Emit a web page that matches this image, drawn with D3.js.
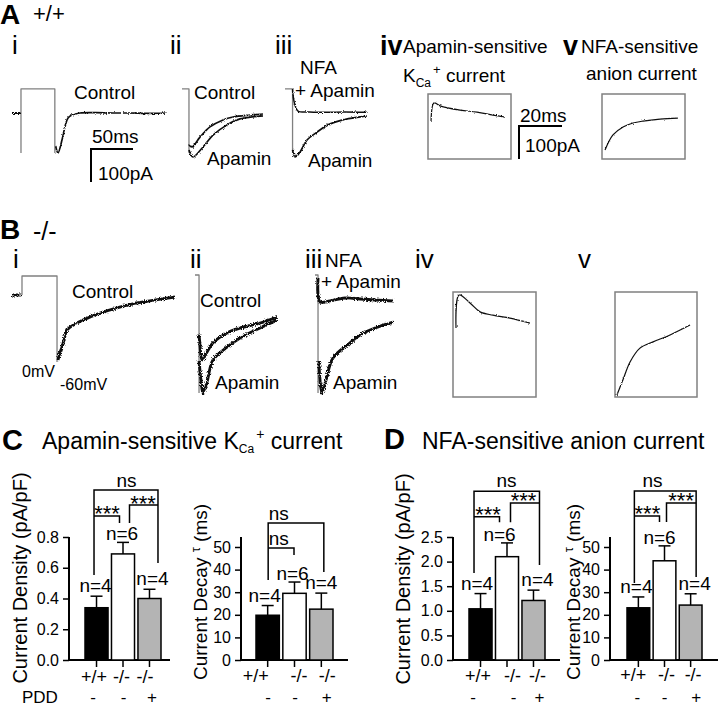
<!DOCTYPE html>
<html><head><meta charset="utf-8">
<script src="https://cdn.jsdelivr.net/npm/d3@7"></script>
<style>
body{margin:0;background:#fff;}
svg{display:block;font-family:"Liberation Sans",Arial,sans-serif;}
</style></head><body>
<svg id="fig" width="720" height="707"></svg>
<script>
// ================= DATA =================
const genotypes = ["+/+", "-/-", "-/-"];
const pddLabels = ["-", "-", "+"];
const nLabels = ["n=4", "n=6", "n=4"];

const kcaDensity = [0.34, 0.69, 0.40];
const kcaDensitySem = [0.075, 0.075, 0.06];
const kcaTau = [19.8, 29.5, 22.5];
const kcaTauSem = [4.3, 5.0, 7.1];
const anionDensity = [1.04, 2.10, 1.21];
const anionDensitySem = [0.31, 0.28, 0.21];
const anionTau = [23.1, 43.9, 24.3];
const anionTauSem = [4.8, 6.6, 5.0];

const densityTicksC = [0, 0.2, 0.4, 0.6, 0.8];
const densityTicksD = [0, 0.5, 1.0, 1.5, 2.0, 2.5];
const tauTicks = [0, 10, 20, 30, 40, 50];

// current traces: [time (ms), current (pA)]
const aiBaseline = [[0, 0], [10, 0]];
const aiStep = [[10.7, -121], [10.7, 73], [51, 73], [51, -121]];
const aiControl = [[52, -100], [54.8, -121], [59.5, -82], [63, -42], [66.7, -15], [71.4, -6], [81, 0], [100, 1], [120, 0], [140, 0], [160, -1], [184, 0]];
const aiiStep = [[0, 73], [8.3, 73], [8.3, -121]];
const aiiControl = [[8.3, -97], [11.9, -103], [21.4, -73], [33.3, -42], [48.8, -21], [60.7, -12], [81, -6], [96.4, -3]];
const aiiApamin = [[8.3, -112], [13.1, -133], [25, -103], [36.9, -67], [53.6, -36], [69, -18], [96.4, -9]];
const aiiiStep = [[0, 73], [9, 73], [9, -121]];
const aiiiNfa = [[9, 73], [9.5, 55], [11.9, 24], [15.5, 6], [29.8, 3], [50, 2], [70, 3], [97.6, 2]];
const aiiiApamin = [[9, -112], [11.9, -133], [17.9, -118], [26.2, -82], [38.1, -58], [51.2, -36], [69, -21], [89.3, -12], [97.6, -9]];

const biBaseline = [[0, 0], [11, 0]];
const biStep = [[11.9, 0], [11.9, 57.6], [53.6, 57.6], [53.6, -203]];
const biControl = [[54.8, -197], [57, -175], [59.5, -158], [62, -135], [65.5, -106], [75, -88], [84.5, -76], [104.8, -55], [125, -39], [144, -27], [164, -18], [194, -6]];
const biiStep = [[0, 60.6], [4.8, 60.6], [4.8, -297]];
const biiControl = [[4.8, -120], [6, -152], [8.3, -197], [14.3, -173], [21.4, -145], [38.1, -115], [53.6, -100], [77.4, -85], [97.6, -67]];
const biiApamin = [[4.8, -200], [7.1, -258], [9.5, -297], [14.3, -264], [21.4, -197], [38.1, -158], [53.6, -130], [77.4, -100], [97.6, -76]];
const biiiStep = [[0, 60.6], [3.6, 60.6], [3.6, -297]];
const biiiNfa = [[3.6, 51.5], [6, -21], [17.9, -18], [35.7, -9], [53.6, -12], [71.4, -15], [92.9, -18]];
const biiiApamin = [[4.5, -200], [6, -258], [8.3, -297], [13.1, -258], [21.4, -191], [41.7, -145], [53.6, -121], [71.4, -100], [92.9, -82]];

// difference currents (boxes)
const aivTrace = [[1.4, 112], [2.8, 170], [5.6, 161], [14.9, 148], [22.8, 142], [30.2, 133], [35.8, 127]];
const avTrace = [[1.4, 27], [5.1, 73], [9.8, 97], [14.4, 109], [19.1, 115], [27, 121], [35.3, 124]];
const bivTrace = [[1.4, 209], [2.8, 309], [7.9, 285], [12.6, 258], [18.6, 248], [26.5, 239], [35.8, 224]];
const bvTrace = [[0.9, 6], [3.7, 52], [7, 106], [11.6, 148], [17.7, 167], [25.6, 188], [34.9, 218]];

// ================= DRAWING =================
const svg = d3.select("#fig");
const defs = svg.append("defs");
function noiseFilter(id, freq, scale, seed) {
  const f = defs.append("filter").attr("id", id).attr("filterUnits", "userSpaceOnUse")
    .attr("x", 0).attr("y", 0).attr("width", 720).attr("height", 707);
  f.append("feTurbulence").attr("type", "fractalNoise").attr("baseFrequency", freq)
    .attr("numOctaves", 1).attr("seed", seed).attr("result", "t");
  f.append("feDisplacementMap").attr("in", "SourceGraphic").attr("in2", "t")
    .attr("scale", scale).attr("xChannelSelector", "R").attr("yChannelSelector", "G");
}
noiseFilter("noiseA", 0.9, 3, 4);
noiseFilter("noiseB", 0.9, 4.5, 9);
noiseFilter("noiseC", 0.7, 2.5, 2);

function label(x, y, str, size, o = {}) {
  const t = svg.append("text").attr("x", x).attr("y", y).attr("font-size", size).attr("fill", "#000").text(str);
  if (o.bold) t.attr("font-weight", "bold");
  if (o.anchor) t.attr("text-anchor", o.anchor);
  return t;
}
function kcaText(x, y, size, subSize, supSize, prefix, suffix, subDy, supDy) {
  const t = svg.append("text").attr("x", x).attr("y", y).attr("font-size", size);
  t.append("tspan").text(prefix + "K");
  t.append("tspan").attr("font-size", subSize).attr("dy", subDy).text("Ca");
  t.append("tspan").attr("font-size", supSize).attr("dy", supDy).attr("dx", 2).text("+");
  t.append("tspan").attr("dy", -(subDy + supDy)).text(suffix);
}

// time / current scales for traces
const xMs = d3.scaleLinear().domain([0, 50]).range([0, 42]);
const yPA = d3.scaleLinear().domain([0, 100]).range([0, -33]);
const xBoxMs = d3.scaleLinear().domain([0, 20]).range([0, 43]);

function drawTrace(ox, oy, data, xs, opts) {
  const line = d3.line().x(d => ox + xs(d[0])).y(d => oy + yPA(d[1]))
    .curve(opts.curve || d3.curveLinear);
  const p = svg.append("path").attr("d", line(data)).attr("fill", "none")
    .attr("stroke", opts.color || "#111").attr("stroke-width", opts.w || 1.5)
    .attr("stroke-linejoin", "round");
  if (opts.filter) p.attr("filter", `url(#${opts.filter})`);
}
const smooth = d3.curveCatmullRom.alpha(0.5);
const grey = "#808080";

// ---- Panel A ----
label(0, 24, "A", 28, { bold: true });
label(33, 21, "+/+", 22);
[["i", 12], ["ii", 170], ["iii", 275]].forEach(([s, x]) => label(x, 54, s, 26));
label(380, 55, "iv", 27, { bold: true });
label(563, 55, "v", 27, { bold: true });

// A-i
drawTrace(12, 113, aiStep, xMs, { color: grey, w: 1.3 });
drawTrace(12, 113, aiBaseline, xMs, { w: 2, filter: "noiseA" });
drawTrace(12, 113, aiControl, xMs, { w: 1.7, curve: smooth, filter: "noiseA" });
label(74, 99, "Control", 19);
// A-ii
drawTrace(182, 113, aiiStep, xMs, { color: grey, w: 1.3 });
drawTrace(182, 113, aiiControl, xMs, { w: 1.7, curve: smooth, filter: "noiseA" });
drawTrace(182, 113, aiiApamin, xMs, { w: 1.7, curve: smooth, filter: "noiseA" });
label(194, 99, "Control", 19);
label(207, 165, "Apamin", 19);
// A-iii
drawTrace(285, 113, aiiiStep, xMs, { color: grey, w: 1.3 });
drawTrace(285, 113, aiiiNfa, xMs, { w: 1.5, curve: smooth, filter: "noiseA" });
drawTrace(285, 113, aiiiApamin, xMs, { w: 1.7, curve: smooth, filter: "noiseA" });
label(300, 74, "NFA", 19);
label(295, 97, "+ Apamin", 19);
label(308, 167, "Apamin", 19);
// scale bar A (50 ms, 100 pA)
svg.append("path").attr("d", `M${91 + xMs(50)},149H91V${149 - yPA(100)}`)
  .attr("fill", "none").attr("stroke", "#000").attr("stroke-width", 2);
label(92, 143, "50ms", 19);
label(98, 180, "100pA", 19);

// A-iv
label(403, 53, "Apamin-sensitive", 19);
kcaText(403, 82, 19, 12, 13, "", " current", 5, -13);
svg.append("rect").attr("x", 428).attr("y", 94).attr("width", 83).attr("height", 65)
  .attr("fill", "none").attr("stroke", grey).attr("stroke-width", 1.5);
drawTrace(428, 159, aivTrace, xBoxMs, { w: 1.2, curve: smooth, filter: "noiseC" });
// scale bar (20 ms, 100 pA)
svg.append("path").attr("d", `M${519 + xBoxMs(20)},126H519V${126 - yPA(100)}`)
  .attr("fill", "none").attr("stroke", "#000").attr("stroke-width", 2);
label(520, 122, "20ms", 19);
label(525, 152, "100pA", 19);
// A-v
label(581, 53, "NFA-sensitive", 19);
label(586, 80, "anion current", 19);
svg.append("rect").attr("x", 602).attr("y", 94).attr("width", 83).attr("height", 65)
  .attr("fill", "none").attr("stroke", grey).attr("stroke-width", 1.5);
drawTrace(602, 159, avTrace, xBoxMs, { w: 1.2, curve: smooth, filter: "noiseC" });

// ---- Panel B ----
label(0, 239, "B", 28, { bold: true });
label(33, 240, "-/-", 25);
[["i", 13], ["ii", 190], ["iii", 305], ["iv", 415], ["v", 578]].forEach(([s, x]) => label(x, 268, s, 26));
// B-i
drawTrace(12, 295, biStep, xMs, { color: grey, w: 1.3 });
drawTrace(12, 295, biBaseline, xMs, { w: 3, filter: "noiseB" });
drawTrace(12, 295, biControl, xMs, { w: 2.9, curve: smooth, filter: "noiseB" });
label(72, 298, "Control", 19);
label(22, 377, "0mV", 16);
label(60, 390, "-60mV", 16);
// B-ii
drawTrace(195, 295, biiStep, xMs, { color: grey, w: 1.3 });
drawTrace(195, 295, biiControl, xMs, { w: 2.9, curve: smooth, filter: "noiseB" });
drawTrace(195, 295, biiApamin, xMs, { w: 2.9, curve: smooth, filter: "noiseB" });
label(200, 307, "Control", 19);
label(215, 389, "Apamin", 19);
// B-iii
drawTrace(315, 295, biiiStep, xMs, { color: grey, w: 1.3 });
drawTrace(315, 295, biiiNfa, xMs, { w: 2.9, curve: smooth, filter: "noiseB" });
drawTrace(315, 295, biiiApamin, xMs, { w: 2.9, curve: smooth, filter: "noiseB" });
label(325, 267, "NFA", 19);
label(321, 288, "+ Apamin", 19);
label(333, 389, "Apamin", 19);
// B-iv, B-v
svg.append("rect").attr("x", 453).attr("y", 292).attr("width", 83).attr("height", 105)
  .attr("fill", "none").attr("stroke", grey).attr("stroke-width", 1.5);
drawTrace(453, 397, bivTrace, xBoxMs, { w: 1.2, curve: smooth, filter: "noiseC" });
svg.append("rect").attr("x", 615).attr("y", 292).attr("width", 82).attr("height", 105)
  .attr("fill", "none").attr("stroke", grey).attr("stroke-width", 1.5);
drawTrace(615, 397, bvTrace, xBoxMs, { w: 1.2, curve: smooth, filter: "noiseC" });

// ---- Panels C, D titles ----
label(2, 450, "C", 29, { bold: true });
kcaText(42, 449, 23, 12, 14, "Apamin-sensitive ", " current", 4, -14);
label(384, 449, "D", 29, { bold: true });
label(422, 449, "NFA-sensitive anion current", 23);

// ---- bar charts ----
const barFill = ["#000", "#fff", "#b4b4b4"];
function drawChart(cfg) {
  const g = svg.append("g");
  const x = d3.scaleBand().domain(d3.range(genotypes.length)).range(cfg.band).paddingInner(0.13).paddingOuter(0);
  const y = d3.scaleLinear().domain(cfg.domain).range([660, cfg.yTopPx]);
  const cx = i => x(i) + x.bandwidth() / 2;

  // y axis
  const axis = d3.axisLeft(y).tickValues(cfg.ticks).tickFormat(d3.format(cfg.fmt)).tickSize(6).tickPadding(4);
  const ay = g.append("g").attr("transform", `translate(${cfg.x0},0)`).call(axis);
  ay.select(".domain").remove();
  ay.selectAll(".tick line").attr("stroke", "#000").attr("stroke-width", 1.5);
  ay.selectAll(".tick text").attr("font-size", 16).attr("font-family", "Liberation Sans, Arial, sans-serif").attr("fill", "#000");
  g.append("line").attr("x1", cfg.x0).attr("x2", cfg.x0).attr("y1", 660).attr("y2", cfg.axisTop)
    .attr("stroke", "#000").attr("stroke-width", 2);
  // x axis
  g.append("line").attr("x1", cfg.x0).attr("x2", cfg.xEnd).attr("y1", 660).attr("y2", 660)
    .attr("stroke", "#000").attr("stroke-width", 2);
  g.selectAll(".xt").data(genotypes).enter().append("line")
    .attr("x1", (d, i) => cx(i)).attr("x2", (d, i) => cx(i)).attr("y1", 660).attr("y2", 667)
    .attr("stroke", "#000").attr("stroke-width", 1.5);

  // bars
  g.selectAll(".bar").data(cfg.values).enter().append("rect")
    .attr("x", (d, i) => x(i)).attr("y", d => y(d)).attr("width", x.bandwidth())
    .attr("height", d => 660 - y(d)).attr("fill", (d, i) => barFill[i])
    .attr("stroke", "#000").attr("stroke-width", 1.5);
  // error bars
  cfg.values.forEach((v, i) => {
    const top = y(v + cfg.sem[i]);
    g.append("line").attr("x1", cx(i)).attr("x2", cx(i)).attr("y1", y(v)).attr("y2", top)
      .attr("stroke", "#000").attr("stroke-width", 1.5);
    g.append("line").attr("x1", cx(i) - 6).attr("x2", cx(i) + 6).attr("y1", top).attr("y2", top)
      .attr("stroke", "#000").attr("stroke-width", 1.5);
    g.append("text").attr("x", cx(i) + cfg.nOff[i]).attr("y", top - (i === 1 ? 2 : 4)).attr("text-anchor", "middle")
      .attr("font-size", 19).text(nLabels[i]);
    g.append("text").attr("x", cx(i) + cfg.gOff[i]).attr("y", cfg.gY).attr("text-anchor", "middle")
      .attr("font-size", 18).text(genotypes[i]);
    g.append("text").attr("x", cx(i) + cfg.pOff[i]).attr("y", 703).attr("text-anchor", "middle")
      .attr("font-size", 17).text(pddLabels[i]);
  });

  // significance brackets
  const px = p => cx(p[0]) + p[1];
  cfg.brackets.forEach(b => {
    g.append("path").attr("d", d3.line().x(px).y(p => y(p[2]))(b))
      .attr("fill", "none").attr("stroke", "#000").attr("stroke-width", 1.5);
  });
  cfg.sig.forEach(s => {
    g.append("text").attr("x", px(s)).attr("y", y(s[2])).attr("text-anchor", s[4] || "middle")
      .attr("font-size", s[3] === "ns" ? 19 : 22).text(s[3]);
  });

  // y label
  const yl = g.append("text").attr("transform", `translate(${cfg.labelX},${cfg.labelY}) rotate(-90)`)
    .attr("text-anchor", "middle").attr("font-size", cfg.tau ? 19 : 20);
  if (cfg.tau) {
    yl.append("tspan").text("Current Decay ");
    yl.append("tspan").attr("font-size", 13).attr("dy", -7).text("\u03C4");
    yl.append("tspan").attr("dy", 7).text(" (ms)");
  } else {
    yl.text("Current Density (pA/pF)");
  }
}

drawChart({
  values: kcaDensity, sem: kcaDensitySem, domain: [0, 0.8], yTopPx: 537, axisTop: 537,
  ticks: densityTicksC, fmt: ".1f", x0: 69, xEnd: 170, band: [85, 161],
  labelX: 27, labelY: 578, tau: false, gY: 683,
  nOff: [-1, -1, 3], gOff: [-2.5, -1.5, -4.5], pOff: [-3.5, 0.5, 2.5],
  brackets: [
    [[0, -2.5, 0.553], [0, -2.5, 1.106], [2, 8.5, 1.106], [2, 8.5, 0.631]],
    [[0, -2.5, 0.937], [1, -3.5, 0.937], [1, -3.5, 0.891]],
    [[1, 6.5, 0.891], [1, 6.5, 1.008], [2, 8.5, 1.008]]
  ],
  sig: [[1, 3.5, 1.125, "ns"], [0, 10.5, 0.904, "***"], [2, -6.5, 0.969, "***"]]
});
drawChart({
  values: kcaTau, sem: kcaTauSem, domain: [0, 50], yTopPx: 547, axisTop: 537,
  ticks: tauTicks, fmt: "d", x0: 241, xEnd: 348, band: [256, 333],
  labelX: 207, labelY: 592, tau: true, gY: 682,
  nOff: [-3, -2, 0], gOff: [-12, 4.5, 6], pOff: [0.5, 0.5, 5.5],
  brackets: [
    [[0, 0.5, 35.4], [0, 0.5, 60.6], [2, 2.5, 60.6], [2, 2.5, 38.9]],
    [[0, 0.5, 49.6], [1, -0.5, 49.6], [1, -0.5, 46.5]]
  ],
  sig: [[0, 1, 61.9, "ns", "start"], [0, 1, 50.9, "ns", "start"]]
});
drawChart({
  values: anionDensity, sem: anionDensitySem, domain: [0, 2.5], yTopPx: 537, axisTop: 537,
  ticks: densityTicksD, fmt: ".1f", x0: 453, xEnd: 560, band: [469, 545],
  labelX: 410, labelY: 579, tau: false, gY: 682,
  nOff: [-3.5, -7.5, 4], gOff: [-2.5, 5.5, 4], pOff: [-7.5, 6.5, 6],
  brackets: [
    [[0, -6.5, 1.77], [0, -6.5, 3.43], [2, 6, 3.43], [2, 6, 1.93]],
    [[0, -6.5, 2.91], [1, -7.5, 2.91], [1, -7.5, 2.80]],
    [[1, 3.5, 2.80], [1, 3.5, 3.19], [2, 6, 3.19]]
  ],
  sig: [[1, -0.5, 3.52, "ns"], [0, 7.5, 2.80, "***"], [2, -10, 3.09, "***"]]
});
drawChart({
  values: anionTau, sem: anionTauSem, domain: [0, 50], yTopPx: 547, axisTop: 537,
  ticks: tauTicks, fmt: "d", x0: 610, xEnd: 718, band: [627, 702],
  labelX: 580, labelY: 592, tau: true, gY: 681,
  nOff: [-2, -5, 4], gOff: [-5, 2, 2.5], pOff: [-1, 0, 5.5],
  brackets: [
    [[0, -4, 34.1], [0, -4, 74.8], [2, 5.5, 74.8], [2, 5.5, 36.7]],
    [[0, -4, 63.7], [1, -5, 63.7], [1, -5, 61.1]],
    [[1, 2, 61.1], [1, 2, 69.5], [2, 5.5, 69.5]]
  ],
  sig: [[1, -12, 76.5, "ns"], [0, 9, 61.5, "***"], [2, -9.5, 67.3, "***"]]
});
label(22, 703, "PDD", 17);
</script>
</body></html>
